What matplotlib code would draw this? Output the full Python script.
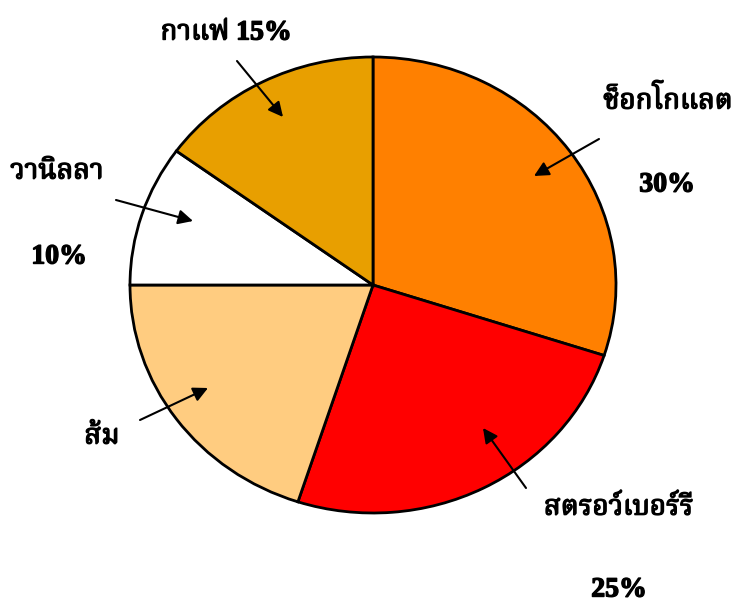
import matplotlib
matplotlib.use("Agg")
import matplotlib.pyplot as plt
import matplotlib.patheffects as pe
from matplotlib import font_manager
from matplotlib.ft2font import FT2Font

# pie data, clockwise from 12 o'clock
flavours = ["ช็อกโกแลต", "สตรอว์เบอร์รี", "ส้ม", "วานิลลา", "กาแฟ"]
shares = [30, 25, 20, 10, 15]
colours = ["#FF8000", "#FF0000", "#FFCC80", "#FFFFFF", "#E89F00"]


def find_thai_family():
    # look for any installed font that actually has Thai glyphs
    preferred = ["Norasi", "Angsana", "TH Sarabun", "Noto Serif Thai", "Laksaman",
                 "Tlwg", "Garuda", "Loma", "Noto Sans Thai", "Kinnari"]
    found = []
    for f in font_manager.fontManager.ttflist:
        try:
            if 0x0E01 in FT2Font(f.fname).get_charmap():
                found.append(f.name)
        except Exception:
            pass
    for p in preferred:
        for name in found:
            if p.lower() in name.lower():
                return name
    return found[0] if found else None


thai = find_thai_family()
# latin digits from Liberation Serif, thai glyphs fall through to the thai font
families = ["Liberation Serif"] + ([thai] if thai else []) + ["DejaVu Serif"]
plt.rcParams["font.family"] = families

W, H = 733, 605
fig = plt.figure(figsize=(W / 100, H / 100), dpi=100)
# pie is an ellipse ~486 x 456 px centred at (373, 285)
cx, cy, rx, ry = 373, 285, 243, 228
ax = fig.add_axes([(cx - rx) / W, (H - cy - ry) / H, 2 * rx / W, 2 * ry / H])
ax.pie(shares, colors=colours, startangle=90, counterclock=False,
       wedgeprops={"edgecolor": "black", "linewidth": 2})
ax.set_aspect("auto")
ax.set_xlim(-1, 1)
ax.set_ylim(-1, 1)
ax.axis("off")


def px(x, y):
    return ((x - cx) / rx, (cy - y) / ry)


labels = [
    (f"{flavours[4]} {shares[4]}%", (226, 33)),
    (flavours[3], (57, 172)),
    (f"{shares[3]}%", (59, 257)),
    (flavours[0], (668, 100)),
    (f"{shares[0]}%", (667, 185)),
    (flavours[2], (102, 437)),
    (flavours[1], (619, 508)),
    (f"{shares[1]}%", (619, 590)),
]
# fake heavier strokes since the thai font has no bold face
thick = [pe.withStroke(linewidth=1.0, foreground="black")]
for txt, (x, y) in labels:
    ax.text(*px(x, y), txt, ha="center", va="center", fontsize=20,
            fontweight="bold", clip_on=False, path_effects=thick)

arrows = [
    ((237, 61), (283, 117)),
    ((116, 200), (193, 221)),
    ((599, 139), (534, 176)),
    ((140, 420), (208, 388)),
    ((526, 488), (483, 428)),
]
for tail, head in arrows:
    ax.annotate("", xy=px(*head), xytext=px(*tail), annotation_clip=False,
                arrowprops=dict(arrowstyle="-|>", color="black", lw=1.5,
                                mutation_scale=22, shrinkA=0, shrinkB=0))

fig.savefig("out.png", dpi=100)
